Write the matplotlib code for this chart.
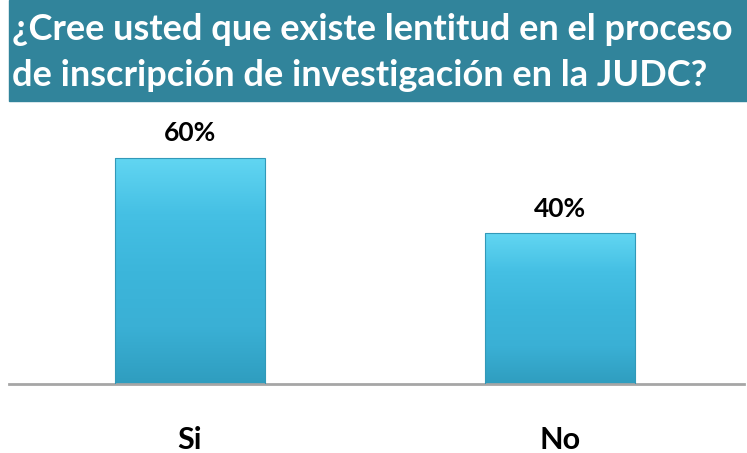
import numpy as np
import matplotlib.pyplot as plt
from matplotlib.colors import LinearSegmentedColormap
from matplotlib.patches import Rectangle

categories = ["Si", "No"]
values = [60, 40]
labels = ["60%", "40%"]
title_lines = ["¿Cree usted que existe lentitud en el proceso",
               "de inscripción de investigación en la JUDC?"]

W, H = 747, 453
fig = plt.figure(figsize=(W / 100, H / 100), dpi=100)
fig.patch.set_facecolor("white")

# banner del titulo
fig.patches.append(Rectangle((9 / W, 1 - 101 / H), 1 - 9 / W, 101 / H,
                             transform=fig.transFigure, color="#31849B", zorder=0))
fig.text(12 / W, 1 - 29 / H, title_lines[0], color="white",
         fontsize=26, fontweight="bold", family="Lato", ha="left", va="center")
fig.text(12 / W, 1 - 75 / H, title_lines[1], color="white",
         fontsize=26, fontweight="bold", family="Lato", ha="left", va="center")

ax = fig.add_axes([9 / W, (H - 384) / H, 735 / W, (384 - 110) / H])
x = np.arange(len(categories))
bars = ax.bar(x, values, width=0.403, color="none", edgecolor="#3299B8", linewidth=0.8, zorder=3)

cmap = LinearSegmentedColormap.from_list("bar", ["#62D6F2", "#45C0E4", "#3CB6DB", "#3AB0D5", "#2F9DBF"])
grad = np.linspace(0, 1, 256).reshape(-1, 1)
for b in bars:
    x0, y0 = b.get_x(), b.get_y()
    w, h = b.get_width(), b.get_height()
    im = ax.imshow(grad, cmap=cmap, aspect="auto", extent=(x0, x0 + w, y0, y0 + h),
                   origin="upper", zorder=2)
    im.set_clip_path(b)

for xi, v, lab in zip(x, values, labels):
    ax.text(xi, v + 6.5, lab, ha="center", va="center", fontsize=19,
            fontweight="bold", family="Lato", color="black")

ax.set_xlim(-0.489, 1.497)
ax.set_ylim(0, 72.7)
for s in ["top", "right", "left"]:
    ax.spines[s].set_visible(False)
ax.spines["bottom"].set_color("#A6A6A6")
ax.spines["bottom"].set_linewidth(2)
ax.set_yticks([])
ax.set_xticks(x)
ax.set_xticklabels(categories, fontsize=22, fontweight="bold", family="Lato")
ax.tick_params(axis="x", length=0, pad=30)

fig.savefig("out.png", dpi=100)
